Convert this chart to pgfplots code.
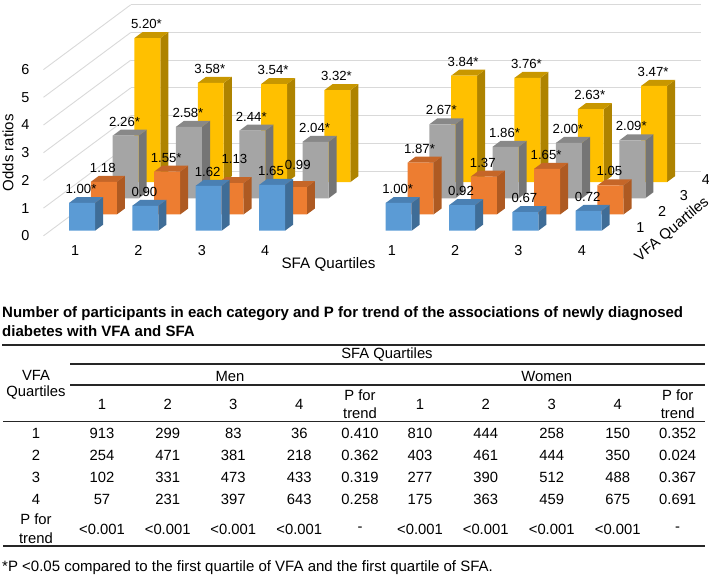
\documentclass[border=0pt]{standalone}
\usepackage{fontspec}
\setmainfont{Liberation Sans}
\usepackage{pgfplots}
\pgfplotsset{compat=1.18}

\definecolor{bluef}{HTML}{5B9BD5}\definecolor{blues}{HTML}{3F6D97}\definecolor{bluet}{HTML}{4A80B3}
\definecolor{oranf}{HTML}{ED7D31}\definecolor{orans}{HTML}{AE5A22}\definecolor{orant}{HTML}{C56628}
\definecolor{grayf}{HTML}{A5A5A5}\definecolor{grays}{HTML}{757575}\definecolor{grayt}{HTML}{888888}
\definecolor{yellf}{HTML}{FFC000}\definecolor{yells}{HTML}{AE8300}\definecolor{yellt}{HTML}{C89700}

% k / value / star / label dx / label dy
\def\rowblue{1/1.00/*/0/0,2/0.90//0/0,3/1.62//0/0,4/1.65//0/0,6/1.00/*/0/0,7/0.92//0/0,8/0.67//0/0,9/0.72//0/0}
\def\roworan{1/1.18//0/0,2/1.55/*/0/0,3/1.13//5/10,4/0.99//5/8,6/1.87/*/0/0,7/1.37//0/0,8/1.65/*/0/0,9/1.05//0/0}
\def\rowgray{1/2.26/*/0/0,2/2.58/*/0/0,3/2.44/*/0/0,4/2.04/*/0/0,6/2.67/*/0/0,7/1.86/*/0/0,8/2.00/*/0/0,9/2.09/*/0/0}
\def\rowyell{1/5.20/*/0/0,2/3.58/*/0/0,3/3.54/*/0/0,4/3.32/*/0/0,6/3.84/*/0/0,7/3.76/*/0/0,8/2.63/*/0/0,9/3.47/*/0/0}

% list, depth, colour prefix
\newcommand\barrow[3]{%
  \foreach \k/\v/\s/\dx/\dy in #1 {%
    \pgfmathsetmacro\xa{\k-0.205}\pgfmathsetmacro\xb{\k+0.205}%
    \pgfmathsetmacro\ya{#2-0.185}\pgfmathsetmacro\yb{#2+0.185}%
    \edef\temp{%
      \noexpand\addplot3[fill=#3s,draw=none] coordinates {(\xb,\ya,0)(\xb,\yb,0)(\xb,\yb,\v)(\xb,\ya,\v)(\xb,\ya,0)};
      \noexpand\addplot3[fill=#3t,draw=none] coordinates {(\xa,\ya,\v)(\xb,\ya,\v)(\xb,\yb,\v)(\xa,\yb,\v)(\xa,\ya,\v)};
      \noexpand\addplot3[fill=#3f,draw=none] coordinates {(\xa,\ya,0)(\xb,\ya,0)(\xb,\ya,\v)(\xa,\ya,\v)(\xa,\ya,0)};
    }\temp
  }%
}
\newcommand\labelrow[2]{%
  \foreach \k/\v/\s/\dx/\dy in #1 {%
    \pgfmathsetmacro\ya{#2-0.185}%
    \edef\temp{\noexpand\node[anchor=center,inner sep=0pt,font=\noexpand\fontsize{13.2}{15}\noexpand\selectfont,xshift=\dx pt-1pt,yshift=14pt+\dy pt]
      at (axis cs:\k,\ya,\v) {\v\s};}\temp
  }%
}

\newcommand\men[6]{\foreach \x/\t in {102/#2,167.7/#3,233.3/#4,299.3/#5,360/#6}{\node at (\x,#1) {\t};}}
\newcommand\women[6]{\foreach \x/\t in {420/#2,485.7/#3,551.7/#4,617.7/#5,677.7/#6}{\node at (\x,#1) {\t};}}

\begin{document}
\begin{tikzpicture}
\path[use as bounding box] (0,0) rectangle (709pt,576pt);
\begin{axis}[
    at={(43.5pt,340.2pt)}, anchor=origin,
    x={(63.33pt,0pt)}, y={(21.8pt,16.2pt)}, z={(0pt,27.7pt)},
    xmin=0.5, xmax=9.5, ymin=0.5, ymax=4.5, zmin=0, zmax=6,
    xtick={1,2,3,4,6,7,8,9}, xticklabels={1,2,3,4,1,2,3,4},
    ytick={1,2,3,4}, ztick={0,1,2,3,4,5,6},
    axis line style={draw=none}, major tick length=0pt,
    zmajorgrids=true, xmajorgrids=false, ymajorgrids=false,
    major grid style={draw=black!15,line width=0.9pt},
    clip=false,
    /pgf/number format/assume math mode=true,
    tick label style={font=\fontsize{14.4}{15}\selectfont,anchor=center,inner sep=0pt},
    xticklabel style={yshift=-15pt},
    yticklabel style={xshift=16pt},
    zticklabel style={xshift=-18pt},
    xlabel={SFA Quartiles}, ylabel={VFA Quartiles}, zlabel={Odds ratios},
    every axis x label/.style={at={(axis cs:5,0.5,0)},yshift=-29pt,anchor=center,inner sep=0pt,font=\fontsize{15.2}{17}\selectfont},
    every axis y label/.style={at={(axis cs:9.5,2.5,0)},xshift=15pt,yshift=-26.5pt,rotate=40,anchor=center,inner sep=0pt,font=\fontsize{14.8}{17}\selectfont},
    every axis z label/.style={at={(axis cs:0.5,0.5,3)},xshift=-35.5pt,rotate=90,anchor=center,inner sep=0pt,font=\fontsize{15}{17}\selectfont},
]
\barrow{\rowyell}{4}{yell}
\barrow{\rowgray}{3}{gray}
\barrow{\roworan}{2}{oran}
\barrow{\rowblue}{1}{blue}
\labelrow{\rowyell}{4}
\labelrow{\rowgray}{3}
\labelrow{\roworan}{2}
\labelrow{\rowblue}{1}
\end{axis}

\begin{scope}[x=1pt,y=-1pt,yshift=576pt,
    every node/.style={inner sep=0pt,font=\fontsize{14.8}{16}\selectfont}]
\node[anchor=base west,font=\fontsize{15}{16}\selectfont\bfseries] at (2,318) {Number of participants in each category and P for trend of the associations of newly diagnosed};
\node[anchor=base west,font=\fontsize{15}{16}\selectfont\bfseries] at (2,336.5) {diabetes with VFA and SFA};
\draw[line width=1.2pt,black!85] (2,345)--(705,345) (70,364)--(705,364) (70,385)--(705,385) (3,421.7)--(705,421.7) (3,546)--(705,546);
\node at (387,355) {SFA Quartiles};
\node at (36,375) {VFA};
\node at (36,393) {Quartiles};
\node at (230,376) {Men};
\node at (546.7,376) {Women};
\men{404}{1}{2}{3}{4}{}
\women{404}{1}{2}{3}{4}{}
\node at (360,395) {P for};\node at (360,413) {trend};
\node at (677.7,395) {P for};\node at (677.7,413) {trend};
\foreach \y/\t in {433.3/1,455.7/2,477.7/3,499.3/4}{\node at (36,\y) {\t};}
\men{433.3}{913}{299}{83}{36}{0.410}\women{433.3}{810}{444}{258}{150}{0.352}
\men{455.7}{254}{471}{381}{218}{0.362}\women{455.7}{403}{461}{444}{350}{0.024}
\men{477.7}{102}{331}{473}{433}{0.319}\women{477.7}{277}{390}{512}{488}{0.367}
\men{499.3}{57}{231}{397}{643}{0.258}\women{499.3}{175}{363}{459}{675}{0.691}
\node at (36,519.3) {P for};\node at (36,538.3) {trend};
\men{529}{<0.001}{<0.001}{<0.001}{<0.001}{-}\women{529}{<0.001}{<0.001}{<0.001}{<0.001}{-}
\node[anchor=base west,font=\fontsize{15}{16}\selectfont] at (2,571) {*P <0.05 compared to the first quartile of VFA and the first quartile of SFA.};
\end{scope}
\end{tikzpicture}
\end{document}
